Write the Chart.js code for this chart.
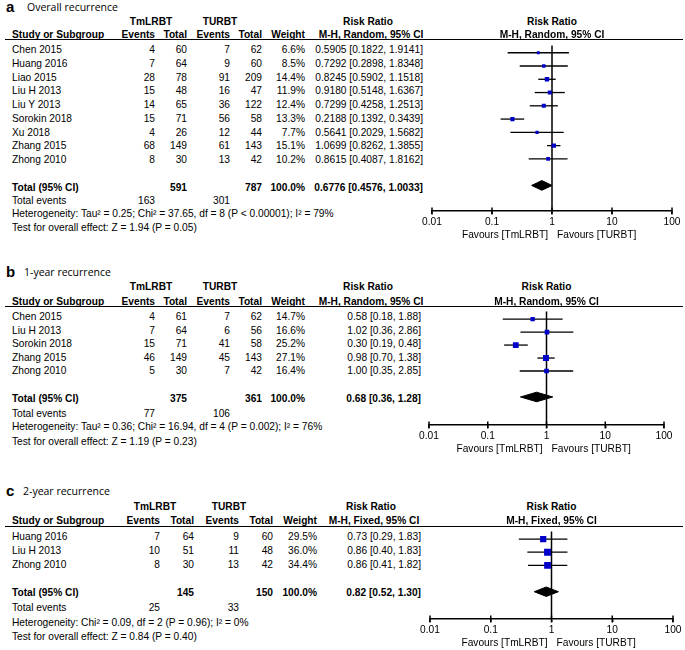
<!DOCTYPE html>
<html>
<head>
<meta charset="utf-8">
<script src="https://cdn.jsdelivr.net/npm/chart.js@4.4.1/dist/chart.umd.min.js"></script>
<style>
  body { margin: 0; background: #fff; }
  #wrap { position: relative; width: 685px; height: 650px; overflow: hidden; background: #fff;
          font-family: "Liberation Sans", Arial, sans-serif; font-size: 10.2px; color: #000; }
  .t { position: absolute; white-space: nowrap; line-height: 14px; height: 14px; }
  .b { font-weight: bold; }
  .letter { font-size: 15px; font-weight: bold; line-height: 16px; height: 16px; }
  .title { font-family: "Open Sans", sans-serif; font-size: 10.5px; }
  .rule { position: absolute; height: 1px; background: #000; }
  canvas { position: absolute; }
</style>
</head>
<body>
<div id="wrap"></div>
<script>
// shared labels
const tickValues = [0.01, 0.1, 1, 10, 100];
const tickLabels = ['0.01', '0.1', '1', '10', '100'];
const groupLabels = ['TmLRBT', 'TURBT'];
const colHeads = ['Events', 'Total', 'Events', 'Total', 'Weight'];
const favours = ['Favours [TmLRBT]', 'Favours [TURBT]'];

// a - overall recurrence
const aStudy = ['Chen 2015', 'Huang 2016', 'Liao 2015', 'Liu H 2013', 'Liu Y 2013', 'Sorokin 2018', 'Xu 2018', 'Zhang 2015', 'Zhong 2010'];
const aEv1 = [4, 7, 28, 15, 14, 15, 4, 68, 8];
const aN1 = [60, 64, 78, 48, 65, 71, 26, 149, 30];
const aEv2 = [7, 9, 91, 16, 36, 56, 12, 61, 13];
const aN2 = [62, 60, 209, 47, 122, 58, 44, 143, 42];
const aWeight = [6.6, 8.5, 14.4, 11.9, 12.4, 13.3, 7.7, 15.1, 10.2];
const aRR = [0.5905, 0.7292, 0.8245, 0.9180, 0.7299, 0.2188, 0.5641, 1.0699, 0.8615];
const aLo = [0.1822, 0.2898, 0.5902, 0.5148, 0.4258, 0.1392, 0.2029, 0.8262, 0.4087];
const aHi = [1.9141, 1.8348, 1.1518, 1.6367, 1.2513, 0.3439, 1.5682, 1.3855, 1.8162];
const aTotals = [591, 787];
const aPooled = [0.6776, 0.4576, 1.0033];
const aEvents = [163, 301];
const aHet = 'Heterogeneity: Tau² = 0.25; Chi² = 37.65, df = 8 (P < 0.00001); I² = 79%';
const aTest = 'Test for overall effect: Z = 1.94 (P = 0.05)';

// b - 1-year recurrence
const bStudy = ['Chen 2015', 'Liu H 2013', 'Sorokin 2018', 'Zhang 2015', 'Zhong 2010'];
const bEv1 = [4, 7, 15, 46, 5];
const bN1 = [61, 64, 71, 149, 30];
const bEv2 = [7, 6, 41, 45, 7];
const bN2 = [62, 56, 58, 143, 42];
const bWeight = [14.7, 16.6, 25.2, 27.1, 16.4];
const bRR = [0.58, 1.02, 0.30, 0.98, 1.00];
const bLo = [0.18, 0.36, 0.19, 0.70, 0.35];
const bHi = [1.88, 2.86, 0.48, 1.38, 2.85];
const bTotals = [375, 361];
const bPooled = [0.68, 0.36, 1.28];
const bEvents = [77, 106];
const bHet = 'Heterogeneity: Tau² = 0.36; Chi² = 16.94, df = 4 (P = 0.002); I² = 76%';
const bTest = 'Test for overall effect: Z = 1.19 (P = 0.23)';

// c - 2-year recurrence
const cStudy = ['Huang 2016', 'Liu H 2013', 'Zhong 2010'];
const cEv1 = [7, 10, 8];
const cN1 = [64, 51, 30];
const cEv2 = [9, 11, 13];
const cN2 = [60, 48, 42];
const cWeight = [29.5, 36.0, 34.4];
const cRR = [0.73, 0.86, 0.86];
const cLo = [0.29, 0.40, 0.41];
const cHi = [1.83, 1.83, 1.82];
const cTotals = [145, 150];
const cPooled = [0.82, 0.52, 1.30];
const cEvents = [25, 33];
const cHet = 'Heterogeneity: Chi² = 0.09, df = 2 (P = 0.96); I² = 0%';
const cTest = 'Test for overall effect: Z = 0.84 (P = 0.40)';

const panels = [
  { letter: 'a', title: 'Overall recurrence', method: 'M-H, Random, 95% CI', dp: 4,
    study: aStudy, ev1: aEv1, n1: aN1, ev2: aEv2, n2: aN2, weight: aWeight, rr: aRR, lo: aLo, hi: aHi,
    totals: aTotals, pooled: aPooled, events: aEvents, het: aHet, test: aTest,
    titleY: 7, titleX: 27, groupY: 22, headY: 35, lineY: 39.5, rowY: 50, pitch: 13.75, gaps: [13.5, 26, 40],
    axisY: 211, fLeft: 432, fRight: 672, cols: [155, 187, 230, 262, 305], groupCx: [151, 220], rrRight: 423, rrCx: 368 },
  { letter: 'b', title: '1-year recurrence', method: 'M-H, Random, 95% CI', dp: 2,
    study: bStudy, ev1: bEv1, n1: bN1, ev2: bEv2, n2: bN2, weight: bWeight, rr: bRR, lo: bLo, hi: bHi,
    totals: bTotals, pooled: bPooled, events: bEvents, het: bHet, test: bTest,
    titleY: 272, titleX: 24, groupY: 287, headY: 302, lineY: 306, rowY: 317, pitch: 13.6, gaps: [15.5, 28.5, 43],
    axisY: 425, fLeft: 429, fRight: 664, cols: [155, 187, 230, 262, 305], groupCx: [151, 220], rrRight: 421, rrCx: 368 },
  { letter: 'c', title: '2-year recurrence', method: 'M-H, Fixed, 95% CI', dp: 2,
    study: cStudy, ev1: cEv1, n1: cN1, ev2: cEv2, n2: cN2, weight: cWeight, rr: cRR, lo: cLo, hi: cHi,
    totals: cTotals, pooled: cPooled, events: cEvents, het: cHet, test: cTest,
    titleY: 491, titleX: 23, groupY: 507, headY: 521, lineY: 526, rowY: 537, pitch: 14, gaps: [15, 30, 44],
    axisY: 619, fLeft: 430, fRight: 673, cols: [160, 194, 239, 273, 317], groupCx: [155, 229], rrRight: 421, rrCx: 371 }
];

const wrap = document.getElementById('wrap');
const W = 685;

function txt(x, y, s, align, cls) {
  const d = document.createElement('div');
  d.className = 't' + (cls ? ' ' + cls : '');
  d.textContent = s;
  d.style.top = (y - 7) + 'px';
  if (align === 'right') {
    d.style.right = (W - x) + 'px';
  } else if (align === 'center') {
    d.style.left = (x - 150) + 'px';
    d.style.width = '300px';
    d.style.textAlign = 'center';
  } else {
    d.style.left = x + 'px';
  }
  wrap.appendChild(d);
  return d;
}

const ciText = (v, lo, hi, dp) => `${v.toFixed(dp)} [${lo.toFixed(dp)}, ${hi.toFixed(dp)}]`;

function drawTable(p) {
  const l = txt(6, p.titleY, p.letter, 'left', 'letter');
  l.style.top = (p.titleY - 8) + 'px';
  txt(p.titleX, p.titleY, p.title, 'left', 'title');

  txt(p.groupCx[0], p.groupY, groupLabels[0], 'center', 'b');
  txt(p.groupCx[1], p.groupY, groupLabels[1], 'center', 'b');
  txt(p.rrCx, p.groupY, 'Risk Ratio', 'center', 'b');
  txt(12, p.headY, 'Study or Subgroup', 'left', 'b');
  colHeads.forEach((h, i) => txt(p.cols[i], p.headY, h, 'right', 'b'));
  txt(p.rrCx + 3, p.headY, p.method, 'center', 'b');

  const rule = document.createElement('div');
  rule.className = 'rule';
  rule.style.left = '5px';
  rule.style.width = '678px';
  rule.style.top = (p.lineY - 0.5) + 'px';
  wrap.appendChild(rule);

  p.study.forEach((s, i) => {
    const y = p.rowY + i * p.pitch;
    txt(12, y, s, 'left');
    txt(p.cols[0], y, String(p.ev1[i]), 'right');
    txt(p.cols[1], y, String(p.n1[i]), 'right');
    txt(p.cols[2], y, String(p.ev2[i]), 'right');
    txt(p.cols[3], y, String(p.n2[i]), 'right');
    txt(p.cols[4], y, p.weight[i].toFixed(1) + '%', 'right');
    txt(p.rrRight, y, ciText(p.rr[i], p.lo[i], p.hi[i], p.dp), 'right');
  });

  const ty = p.rowY + (p.study.length + 1) * p.pitch;
  txt(12, ty, 'Total (95% CI)', 'left', 'b');
  txt(p.cols[1], ty, String(p.totals[0]), 'right', 'b');
  txt(p.cols[3], ty, String(p.totals[1]), 'right', 'b');
  txt(p.cols[4], ty, '100.0%', 'right', 'b');
  txt(p.rrRight, ty, ciText(p.pooled[0], p.pooled[1], p.pooled[2], p.dp), 'right', 'b');

  txt(12, ty + p.gaps[0], 'Total events', 'left');
  txt(p.cols[0], ty + p.gaps[0], String(p.events[0]), 'right');
  txt(p.cols[2], ty + p.gaps[0], String(p.events[1]), 'right');
  txt(12, ty + p.gaps[1], p.het, 'left');
  txt(12, ty + p.gaps[2], p.test, 'left');
}

function drawForest(p) {
  const padX = 14;
  const axisH = 34;
  const cv = document.createElement('canvas');
  const cvLeft = p.fLeft - padX;
  cv.width = p.fRight - p.fLeft + 2 * padX;
  cv.height = p.axisY - p.lineY + axisH;
  cv.style.left = cvLeft + 'px';
  cv.style.top = p.lineY + 'px';
  wrap.appendChild(cv);

  // marks sit a little above the text centre
  const markY = p.rowY - 3;
  const yMin = (p.lineY - markY) / p.pitch;
  const yMax = (p.axisY - markY) / p.pitch;
  const totRow = p.study.length + 1;
  const dh = 5 / p.pitch;

  const datasets = [];

  datasets.push({
    type: 'scatter',
    data: p.rr.map((v, i) => ({ x: v, y: i })),
    pointStyle: 'rect',
    pointRadius: p.weight.map(w => Math.sqrt(w) * 1.15 / Math.SQRT2),
    backgroundColor: '#0000c8',
    borderWidth: 0,
    order: 0
  });

  datasets.push({
    type: 'line',
    data: [
      { x: p.pooled[1], y: totRow },
      { x: p.pooled[0], y: totRow - dh },
      { x: p.pooled[2], y: totRow },
      { x: p.pooled[0], y: totRow + dh },
      { x: p.pooled[1], y: totRow }
    ],
    borderColor: '#000',
    backgroundColor: '#000',
    borderWidth: 1,
    fill: 'shape',
    tension: 0,
    pointRadius: 0,
    order: 0
  });

  p.rr.forEach((v, i) => {
    datasets.push({
      type: 'line',
      data: [{ x: p.lo[i], y: i }, { x: p.hi[i], y: i }],
      borderColor: '#000',
      borderWidth: 1.3,
      pointRadius: 0,
      clip: false,
      order: 2
    });
  });

  // line of no effect
  datasets.push({
    type: 'line',
    data: [{ x: 1, y: yMin }, { x: 1, y: yMax }],
    borderColor: '#000',
    borderWidth: 1.5,
    pointRadius: 0,
    clip: false,
    order: 3
  });

  // tick marks crossing the axis
  datasets.push({
    type: 'scatter',
    data: tickValues.map(v => ({ x: v, y: yMax })),
    pointStyle: 'line',
    rotation: 90,
    pointRadius: 3.5,
    borderColor: '#000',
    borderWidth: 1.5,
    clip: false,
    order: 1
  });

  const chart = new Chart(cv, {
    type: 'scatter',
    data: { datasets },
    options: {
      responsive: false,
      animation: false,
      events: [],
      layout: { padding: { left: padX, right: padX, top: 0, bottom: 0 } },
      plugins: { legend: { display: false }, tooltip: { enabled: false } },
      scales: {
        y: { type: 'linear', reverse: true, min: yMin, max: yMax, display: false },
        x: {
          type: 'logarithmic',
          min: 0.01,
          max: 100,
          afterBuildTicks: s => { s.ticks = tickValues.map(v => ({ value: v })); },
          afterFit: s => { s.height = axisH; s.paddingLeft = 0; s.paddingRight = 0; },
          ticks: {
            autoSkip: false,
            maxRotation: 0,
            padding: 2,
            color: '#000',
            font: { family: 'Liberation Sans', size: 10.2 },
            callback: (v, i) => tickLabels[i]
          },
          grid: { drawOnChartArea: false, tickLength: 3, color: '#000', lineWidth: 1.5 },
          border: { color: '#000', width: 1.5 }
        }
      }
    }
  });

  const xs = chart.scales.x;
  const area = chart.chartArea;
  const cx = cvLeft + (area.left + area.right) / 2;
  txt(cx, p.groupY, 'Risk Ratio', 'center', 'b');
  txt(cx, p.headY, p.method, 'center', 'b');

  const x1 = cvLeft + xs.getPixelForValue(1);
  txt(x1 - 4, p.axisY + 24, favours[0], 'right');
  txt(x1 + 5, p.axisY + 24, favours[1], 'left');
}

panels.forEach(p => {
  drawTable(p);
  drawForest(p);
});
</script>
</body>
</html>
